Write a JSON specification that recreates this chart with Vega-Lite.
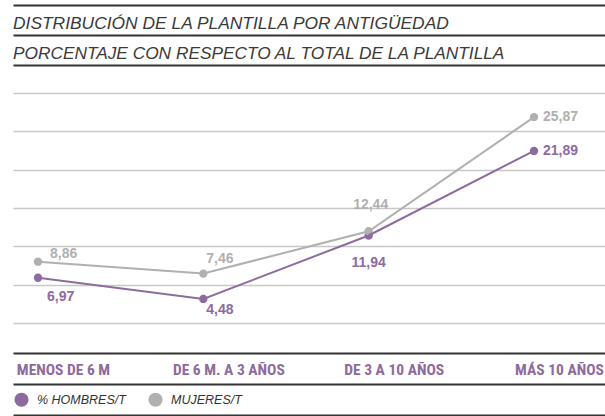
{
  "$schema": "https://vega.github.io/schema/vega-lite/v6.json",
  "width": 605,
  "height": 416,
  "autosize": {"type": "fit", "contains": "padding"},
  "padding": {"left": 13, "top": 0, "right": 0, "bottom": 0},
  "config": {
    "view": {"stroke": null},
    "locale": {"number": {"decimal": ",", "thousands": ".", "grouping": [3], "currency": ["", " €"]}},
    "title": {"fontStyle": "italic", "subtitleFontStyle": "italic"}
  },
  "title": {
    "text": "DISTRIBUCIÓN DE LA PLANTILLA POR ANTIGÜEDAD",
    "subtitle": "PORCENTAJE CON RESPECTO AL TOTAL DE LA PLANTILLA",
    "anchor": "start",
    "frame": "group",
    "orient": "top",
    "offset": -62,
    "font": "Liberation Sans",
    "fontSize": 17.4,
    "fontStyle": "italic",
    "fontWeight": "normal",
    "color": "#3a3a3a",
    "subtitleFont": "Liberation Sans",
    "subtitleFontSize": 17.3,
    "subtitleFontStyle": "italic",
    "subtitleColor": "#3a3a3a",
    "subtitlePadding": 12.6
  },
  "data": {
    "values": [
      {"antiguedad": "MENOS DE 6 M", "serie": "% HOMBRES/T", "valor": 6.97},
      {"antiguedad": "DE 6 M. A 3 AÑOS", "serie": "% HOMBRES/T", "valor": 4.48},
      {"antiguedad": "DE 3 A 10 AÑOS", "serie": "% HOMBRES/T", "valor": 11.94},
      {"antiguedad": "MÁS 10 AÑOS", "serie": "% HOMBRES/T", "valor": 21.89},
      {"antiguedad": "MENOS DE 6 M", "serie": "MUJERES/T", "valor": 8.86},
      {"antiguedad": "DE 6 M. A 3 AÑOS", "serie": "MUJERES/T", "valor": 7.46},
      {"antiguedad": "DE 3 A 10 AÑOS", "serie": "MUJERES/T", "valor": 12.44},
      {"antiguedad": "MÁS 10 AÑOS", "serie": "MUJERES/T", "valor": 25.87}
    ]
  },
  "encoding": {
    "x": {
      "field": "antiguedad",
      "type": "ordinal",
      "sort": ["MENOS DE 6 M", "DE 6 M. A 3 AÑOS", "DE 3 A 10 AÑOS", "MÁS 10 AÑOS"],
      "scale": {"type": "point", "padding": 0.2903, "align": 0.2604},
      "axis": {
        "orient": "bottom",
        "offset": -47,
        "title": null,
        "ticks": false,
        "tickSize": 0,
        "domain": false,
        "grid": false,
        "labelAngle": 0,
        "labelPadding": 0,
        "labelBaseline": "middle",
        "labelAlign": "center",
        "labelOffset": 25,
        "labelFont": "Liberation Sans Narrow, Roboto Condensed, DejaVu Sans Condensed, Liberation Sans",
        "labelFontSize": 15.5,
        "labelFontWeight": "bold",
        "labelColor": "#8e6b9e",
        "labelOverlap": false,
        "minExtent": 0
      }
    },
    "y": {
      "field": "valor",
      "type": "quantitative",
      "scale": {"domain": [-9.294, 39.647], "nice": false, "zero": false},
      "axis": {
        "orient": "left",
        "title": null,
        "labels": false,
        "ticks": false,
        "domain": false,
        "minExtent": 0,
        "values": [39.06, 35.53, 32.0, 28.71, 24.2, 19.68, 15.18, 10.67, 6.15, 1.65, -1.88, -5.53, -9.12],
        "gridColor": {"condition": {"test": "datum.value > 30 || datum.value < 0", "value": "#333333"}, "value": "#c8c8c8"},
        "gridWidth": {"condition": {"test": "datum.value > 30 || datum.value < 0", "value": 2}, "value": 1.5}
      }
    },
    "color": {
      "field": "serie",
      "type": "nominal",
      "scale": {"domain": ["% HOMBRES/T", "MUJERES/T"], "range": ["#8e6b9e", "#b0b0b0"]},
      "legend": {
        "title": null,
        "orient": "none",
        "legendX": 1,
        "legendY": 392,
        "direction": "horizontal",
        "padding": 0,
        "symbolType": "circle",
        "symbolSize": 200,
        "symbolStrokeWidth": 0,
        "symbolOpacity": 1,
        "labelFont": "Liberation Sans",
        "labelFontSize": 12.5,
        "labelFontStyle": "italic",
        "labelColor": "#333333",
        "labelOffset": 8,
        "columnPadding": 22
      }
    }
  },
  "layer": [
    {
      "mark": {"type": "point", "filled": true, "size": 70, "opacity": 1}
    },
    {
      "mark": {"type": "line", "strokeWidth": 2}
    },
    {
      "transform": [{"filter": "datum.serie === 'MUJERES/T' && datum.antiguedad === 'MENOS DE 6 M'"}],
      "mark": {"type": "text", "align": "left", "baseline": "alphabetic", "dx": 12, "dy": -4, "font": "Liberation Sans", "fontSize": 14, "fontWeight": "bold"},
      "encoding": {"text": {"field": "valor", "type": "quantitative", "format": ".2f"}}
    },
    {
      "transform": [{"filter": "datum.serie === 'MUJERES/T' && datum.antiguedad === 'DE 6 M. A 3 AÑOS'"}],
      "mark": {"type": "text", "align": "left", "baseline": "alphabetic", "dx": 3, "dy": -11, "font": "Liberation Sans", "fontSize": 14, "fontWeight": "bold"},
      "encoding": {"text": {"field": "valor", "type": "quantitative", "format": ".2f"}}
    },
    {
      "transform": [{"filter": "datum.serie === 'MUJERES/T' && datum.antiguedad === 'DE 3 A 10 AÑOS'"}],
      "mark": {"type": "text", "align": "center", "baseline": "alphabetic", "dx": 2, "dy": -22, "font": "Liberation Sans", "fontSize": 14, "fontWeight": "bold"},
      "encoding": {"text": {"field": "valor", "type": "quantitative", "format": ".2f"}}
    },
    {
      "transform": [{"filter": "datum.serie === '% HOMBRES/T' && datum.antiguedad === 'MENOS DE 6 M'"}],
      "mark": {"type": "text", "align": "left", "baseline": "alphabetic", "dx": 9, "dy": 23, "font": "Liberation Sans", "fontSize": 14, "fontWeight": "bold"},
      "encoding": {"text": {"field": "valor", "type": "quantitative", "format": ".2f"}}
    },
    {
      "transform": [{"filter": "datum.serie === '% HOMBRES/T' && datum.antiguedad === 'DE 6 M. A 3 AÑOS'"}],
      "mark": {"type": "text", "align": "left", "baseline": "alphabetic", "dx": 3, "dy": 15, "font": "Liberation Sans", "fontSize": 14, "fontWeight": "bold"},
      "encoding": {"text": {"field": "valor", "type": "quantitative", "format": ".2f"}}
    },
    {
      "transform": [{"filter": "datum.serie === '% HOMBRES/T' && datum.antiguedad === 'DE 3 A 10 AÑOS'"}],
      "mark": {"type": "text", "align": "center", "baseline": "alphabetic", "dx": 0, "dy": 31, "font": "Liberation Sans", "fontSize": 14, "fontWeight": "bold"},
      "encoding": {"text": {"field": "valor", "type": "quantitative", "format": ".2f"}}
    },
    {
      "transform": [{"filter": "datum.antiguedad === 'MÁS 10 AÑOS'"}],
      "mark": {"type": "text", "align": "left", "baseline": "middle", "dx": 9, "dy": 0, "font": "Liberation Sans", "fontSize": 14, "fontWeight": "bold"},
      "encoding": {"text": {"field": "valor", "type": "quantitative", "format": ".2f"}}
    }
  ]
}
